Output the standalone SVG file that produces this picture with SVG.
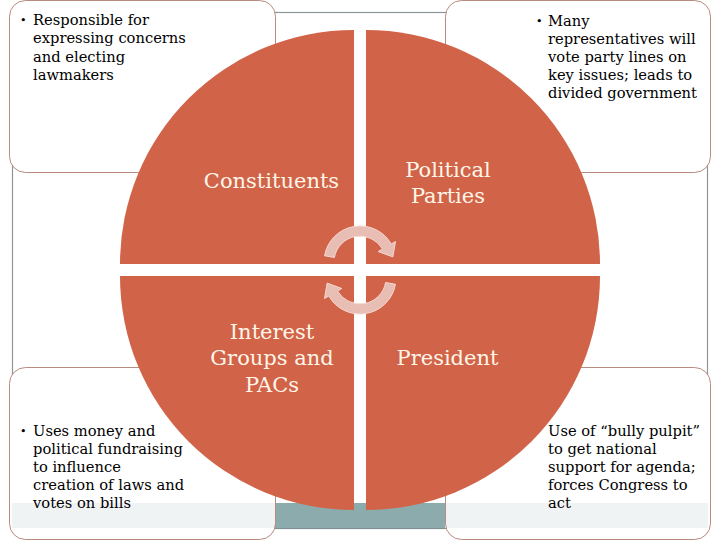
<svg xmlns="http://www.w3.org/2000/svg" width="720" height="540" viewBox="0 0 720 540">
  <style>
    .frame { fill: #FFFFFF; stroke: #8D9599; stroke-width: 1.2; }
    .boxfill { fill: #FFFFFF; stroke: none; }
    .box { fill: none; stroke: #B98A7E; stroke-width: 1; }
    .quad { fill: #D16349; }
    .arrow { fill: #E8BDB3; stroke: #F5D8D0; stroke-width: 1; }
    .label { font-family: "DejaVu Serif", "Liberation Serif", serif; font-size: 21px; fill: #FFF6E8; text-anchor: middle; }
    .note { font-family: "DejaVu Serif", "Liberation Serif", serif; font-size: 14.7px; fill: #000000; }
    .bullet { font-family: "DejaVu Serif", "Liberation Serif", serif; font-size: 11px; fill: #000000; }
  </style>

  <g id="background">
    <rect class="frame" x="12.5" y="12.5" width="695" height="516"/>
  </g>

  <g id="box-fills">
    <rect class="boxfill" x="9.5" y="0.5" width="266" height="172" rx="16"/>
    <rect class="boxfill" x="445.5" y="0.5" width="265" height="172" rx="16"/>
    <rect class="boxfill" x="9.5" y="367.5" width="266" height="172" rx="16"/>
    <rect class="boxfill" x="445.5" y="367.5" width="265" height="172" rx="16"/>
  </g>

  <g id="bottom-band">
    <rect x="12" y="503" width="696" height="25" fill="#F0F3F4"/>
    <rect x="275" y="503" width="170" height="25" fill="#8BABAC"/>
    <line x1="275" y1="528.5" x2="445" y2="528.5" stroke="#7F8F93" stroke-width="1"/>
  </g>

  <g id="box-outlines">
    <rect class="box" x="9.5" y="0.5" width="266" height="172" rx="16"/>
    <rect class="box" x="445.5" y="0.5" width="265" height="172" rx="16"/>
    <rect class="box" x="9.5" y="367.5" width="266" height="172" rx="16"/>
    <rect class="box" x="445.5" y="367.5" width="265" height="172" rx="16"/>
  </g>

  <g id="constituents">
    <path class="quad" d="M354,264 L120,264 A234,234 0 0 1 354,30 Z"/>
    <text class="label" x="271.5" y="188">Constituents</text>
  </g>
  <g id="political-parties">
    <path class="quad" d="M366,264 L366,30 A234,234 0 0 1 600,264 Z"/>
    <text class="label" x="448" y="177">Political</text>
    <text class="label" x="448" y="203">Parties</text>
  </g>
  <g id="interest-groups">
    <path class="quad" d="M354,276 L354,510 A234,234 0 0 1 120,276 Z"/>
    <text class="label" x="272" y="339">Interest</text>
    <text class="label" x="272" y="365">Groups and</text>
    <text class="label" x="272" y="392">PACs</text>
  </g>
  <g id="president">
    <path class="quad" d="M366,276 L600,276 A234,234 0 0 1 366,510 Z"/>
    <text class="label" x="447.5" y="365">President</text>
  </g>

  <g id="connectors">
    <path class="arrow" d="M324.55,255.75 A36,36 0 0 1 391.2,244 L395.5,241.5 L392.85,256.9 L378.2,251.5 L382.5,249 A26,26 0 0 0 334.4,257.5 Z"/>
    <path class="arrow" d="M395.45,284.25 A36,36 0 0 1 328.8,296 L324.5,298.5 L327.15,283.1 L341.8,288.5 L337.5,291 A26,26 0 0 0 385.6,282.5 Z"/>
  </g>

  <g id="note-constituents">
    <text class="bullet" x="20" y="24">•</text>
    <text class="note" x="33" y="25">Responsible for</text>
    <text class="note" x="33" y="43.3">expressing concerns</text>
    <text class="note" x="33" y="61.6">and electing</text>
    <text class="note" x="33" y="80">lawmakers</text>
  </g>
  <g id="note-parties">
    <text class="bullet" x="536" y="24.5">•</text>
    <text class="note" x="548" y="25.5">Many</text>
    <text class="note" x="548" y="43.7">representatives will</text>
    <text class="note" x="548" y="61.9">vote party lines on</text>
    <text class="note" x="548" y="80.1">key issues; leads to</text>
    <text class="note" x="548" y="98.3">divided government</text>
  </g>
  <g id="note-interest">
    <text class="bullet" x="20" y="435">•</text>
    <text class="note" x="33" y="436">Uses money and</text>
    <text class="note" x="33" y="454.1">political fundraising</text>
    <text class="note" x="33" y="472.2">to influence</text>
    <text class="note" x="33" y="490.3">creation of laws and</text>
    <text class="note" x="33" y="508.4">votes on bills</text>
  </g>
  <g id="note-president">
    <text class="note" x="548" y="436">Use of “bully pulpit”</text>
    <text class="note" x="548" y="454.1">to get national</text>
    <text class="note" x="548" y="472.2">support for agenda;</text>
    <text class="note" x="548" y="490.3">forces Congress to</text>
    <text class="note" x="548" y="508.4">act</text>
  </g>
</svg>
